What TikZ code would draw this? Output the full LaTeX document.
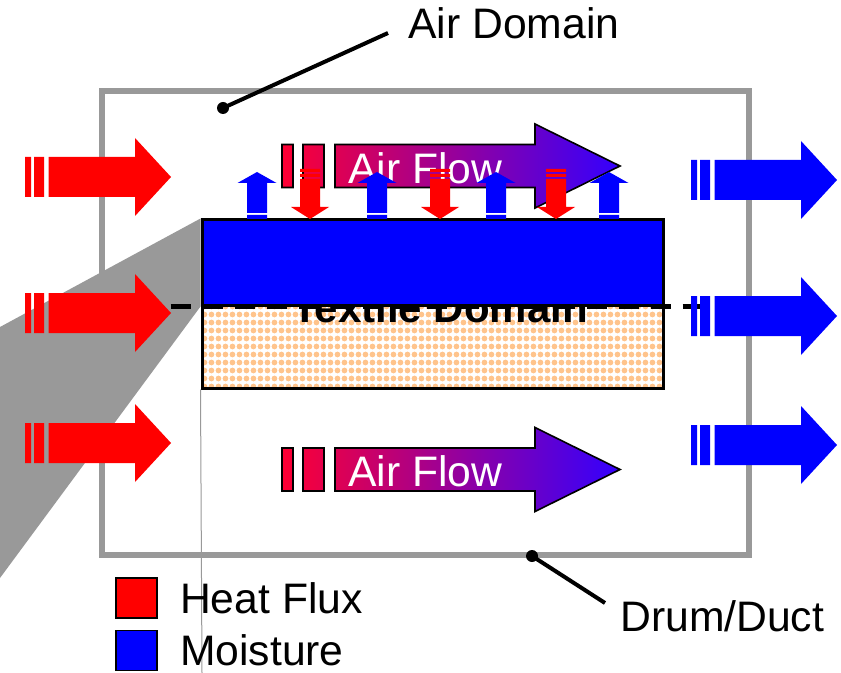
\documentclass[tikz,border=0pt]{standalone}
\usepackage{fontspec}
\setmainfont{Liberation Sans}
\usetikzlibrary{positioning,patterns}
\definecolor{heatred}{RGB}{255,0,0}
\definecolor{moistblue}{RGB}{0,0,255}
\definecolor{drumgray}{RGB}{153,153,153}
\definecolor{flowred}{RGB}{255,0,51}
\definecolor{flowblue}{RGB}{51,0,255}
\definecolor{beadorange}{RGB}{255,196,140}
\pgfdeclarepatternformonly{beads}{\pgfqpoint{0pt}{0pt}}{\pgfqpoint{5.6pt}{5.6pt}}{\pgfqpoint{5.6pt}{5.6pt}}{%
  \pgfpathcircle{\pgfqpoint{2.8pt}{2.8pt}}{2.3pt}%
  \pgfusepath{fill}}
\begin{document}
\begin{tikzpicture}[x=0.75pt, y=-0.75pt,
  every node/.style={font=\fontsize{32}{38}\selectfont, inner sep=0pt},
  layer/.style={draw, line width=2.25pt, minimum width=345.75pt},
  key/.style={draw, line width=1.2pt, minimum width=30.75pt, minimum height=30pt},
  dot/.style={circle, fill, minimum size=9pt},
  callout/.style={line width=3pt},
  sidearrow/.pic={\fill (0,-20) rectangle (6,20) (9,-20) rectangle (19,20)
      (23.5,-20) -- (110,-20) -- (110,-39) -- (146,0) -- (110,39) -- (110,20) -- (23.5,20) -- cycle;},
  airarrow/.pic={\draw[line width=1.2pt, left color=flowred, right color=flowblue]
      (0,-21.5) rectangle (11,21.5) (21,-21.5) rectangle (42,21.5)
      (53,-21.5) -- (253,-21.5) -- (253,-42) -- (338,0) -- (253,42) -- (253,21.5) -- (53,21.5) -- cycle;},
  moistarrow/.pic={\fill[moistblue] (-10,-5) rectangle (10,-1)
      (-10,-7) -- (-10,-37) -- (-19.5,-37) -- (0,-48) -- (19.5,-37) -- (10,-37) -- (10,-7) -- cycle;},
  heatarrow/.pic={\fill[heatred] (-10,-51) rectangle (10,-48) (-10,-46) rectangle (10,-43)
      (-10,-41) -- (-10,-13) -- (-19,-13) -- (0,-1) -- (19,-13) -- (10,-13) -- (10,-41) -- cycle;}]
\fill[white] (0,0) rectangle (841,673);
\useasboundingbox (0,0) rectangle (841,673);
% Drum
\draw[drumgray, line width=4.5pt] (101.5,91) rectangle (748.5,555);
% Textile layers
\node[layer, pattern=beads, pattern color=beadorange, minimum height=62.25pt] (textile) at (432.5,346.5) {};
\node[anchor=base, font=\fontsize{31.5}{37}\selectfont\bfseries] (textilelbl) at (440,322) {Textile Domain};
\node[layer, fill=moistblue, minimum height=63.75pt] (moist) at (432.5,262.5) {};
% Zoom wedge
\coordinate (floor) at (202,673);
\fill[drumgray] (moist.north west) -- (moist.south west) -- (0,578) -- (0,327) -- cycle;
\draw[drumgray, line width=0.75pt] (textile.south west) -- (floor);
\draw[line width=3.75pt, dash pattern=on 15pt off 9pt] ([xshift=-22.5pt]moist.south west) -- ([xshift=27.75pt]moist.south east);
% Air flow
\pic at (282,166) {airarrow};
\node[anchor=base west, white] (flowtop) at (348,183.5) {Air Flow};
\pic at (282,469.5) {airarrow};
\node[anchor=base west, white] (flowbot) at (348,486) {Air Flow};
% Exchange at surface
\foreach \x in {257,377,496,609} \pic at (\x,220) {moistarrow};
\foreach \x in {310,440,556} \pic at (\x,220) {heatarrow};
% In and out
\foreach \y in {177,313,443} \pic[heatred] at (25,\y) {sidearrow};
\foreach \y in {180,316,445} \pic[moistblue] at (691,\y) {sidearrow};
% Callouts
\node[dot] (airdot) at (223,108) {};
\coordinate (airend) at (388,33);
\node[anchor=base] (airlbl) at (514,39) {Air Domain};
\draw[callout] (airdot.center) -- (airend);
\node[dot] (drumdot) at (532,556) {};
\coordinate (drumend) at (605,603);
\node[anchor=base west] (drumlbl) at (620,631) {Drum/Duct};
\draw[callout] (drumdot.center) -- (drumend);
% Legend
\node[key, fill=heatred] (heatkey) at (136.5,598) {};
\node[right=16.5pt of heatkey] (heatlbl) {Heat Flux};
\node[key, fill=moistblue] (moistkey) at (136.5,650.5) {};
\node[right=16.5pt of moistkey] (moistlbl) {Moisture};
\end{tikzpicture}
\end{document}
